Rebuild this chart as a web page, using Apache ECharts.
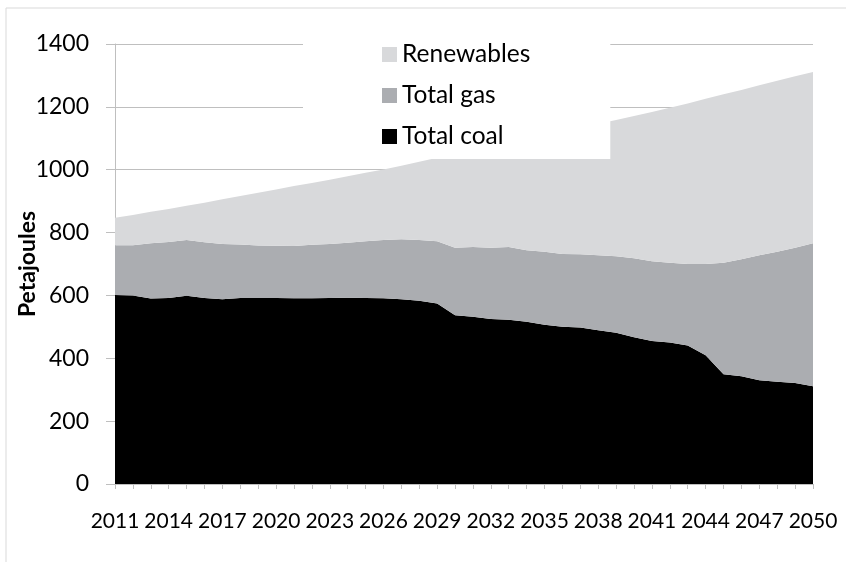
<!DOCTYPE html>
<html>
<head>
<meta charset="utf-8">
<script src="https://cdn.jsdelivr.net/npm/echarts@6/dist/echarts.min.js"></script>
<style>
  html, body { margin: 0; padding: 0; background: #ffffff; }
  #chart { width: 846px; height: 562px; }
</style>
</head>
<body>
<div id="chart"></div>
<script>
const years = [];
for (let y = 2011; y <= 2050; y++) years.push(String(y));

const coal = [601, 600, 590, 592, 599, 592, 588, 592, 592, 592,
              591, 591, 592, 593, 592, 591, 588, 583, 574, 537,
              532, 525, 523, 516, 507, 500, 498, 489, 481, 467,
              455, 450, 441, 410, 349, 343, 330, 325, 321, 311];

const gas = [159, 160, 176, 178, 177, 177, 176, 170, 167, 166,
             166, 170, 172, 175, 180, 185, 191, 193, 198, 215,
             222, 227, 231, 228, 232, 232, 233, 239, 244, 251,
             254, 254, 259, 290, 355, 372, 398, 414, 431, 455];

const renewables = [87, 96, 100, 105, 109, 126, 142, 154, 168, 179,
                    191, 197, 204, 211, 218, 225, 234, 249, 266, 298,
                    308, 322, 332, 354, 371, 390, 403, 418, 433, 453,
                    475, 493, 511, 526, 536, 539, 541, 544, 545, 545];

const legendOrder = ['Renewables', 'Total gas', 'Total coal'];
const colors = { 'Total coal': '#000000', 'Total gas': '#abadb1', 'Renewables': '#d8d9db' };
const yTicks = { min: 0, max: 1400, interval: 200 };

const FONT = 'Lato, "Open Sans", "Noto Sans", sans-serif';
const AXIS_GRAY = '#bfbfbf';

const chart = echarts.init(document.getElementById('chart'), null, { renderer: 'canvas' });

function areaSeries(name, data) {
  return {
    name: name,
    type: 'line',
    stack: 'total',
    data: data,
    showSymbol: false,
    symbol: 'none',
    smooth: false,
    lineStyle: { width: 0, color: colors[name] },
    itemStyle: { color: colors[name] },
    areaStyle: { color: colors[name], opacity: 1 },
    emphasis: { disabled: true }
  };
}

chart.setOption({
  animation: false,
  backgroundColor: '#ffffff',
  textStyle: { fontFamily: FONT },
  grid: { left: 115, right: 33, top: 44, bottom: 78, containLabel: false, outerBoundsMode: 'none' },
  graphic: [
    { type: 'line', shape: { x1: 6, y1: 8, x2: 846, y2: 8 }, style: { stroke: '#d9d9d9', lineWidth: 1 } },
    { type: 'line', shape: { x1: 6, y1: 8, x2: 6, y2: 562 }, style: { stroke: '#d9d9d9', lineWidth: 1 } }
  ],
  legend: {
    data: legendOrder,
    orient: 'vertical',
    left: 303,
    top: 30,
    padding: [12, 80, 10, 79],
    backgroundColor: '#ffffff',
    itemWidth: 15,
    itemHeight: 15,
    itemGap: 16,
    icon: 'rect',
    z: 10,
    selectedMode: false,
    textStyle: { fontFamily: FONT, fontSize: 24.5, color: '#000000', lineHeight: 24 }
  },
  xAxis: {
    type: 'category',
    data: years,
    boundaryGap: false,
    axisLine: { show: true, lineStyle: { color: AXIS_GRAY, width: 1 } },
    axisTick: { show: true, interval: 0, length: 5, lineStyle: { color: AXIS_GRAY } },
    axisLabel: { interval: 2, margin: 27, fontFamily: FONT, fontSize: 21, color: '#000000' },
    splitLine: { show: false }
  },
  yAxis: {
    type: 'value',
    min: yTicks.min,
    max: yTicks.max,
    interval: yTicks.interval,
    name: 'Petajoules',
    nameLocation: 'middle',
    nameGap: 76,
    nameMoveOverlap: false,
    nameTextStyle: { fontFamily: FONT, fontSize: 23, fontWeight: 'bold', color: '#000000' },
    axisLine: { show: true, lineStyle: { color: AXIS_GRAY, width: 1 } },
    axisTick: { show: true, length: 9, lineStyle: { color: AXIS_GRAY } },
    axisLabel: {
      margin: 26, fontFamily: FONT, fontSize: 23, color: '#000000',
      formatter: function (v) { return String(v); }
    },
    splitLine: { show: true, lineStyle: { color: AXIS_GRAY, width: 1 } }
  },
  series: [
    areaSeries('Total coal', coal),
    areaSeries('Total gas', gas),
    areaSeries('Renewables', renewables)
  ]
});
</script>
</body>
</html>
